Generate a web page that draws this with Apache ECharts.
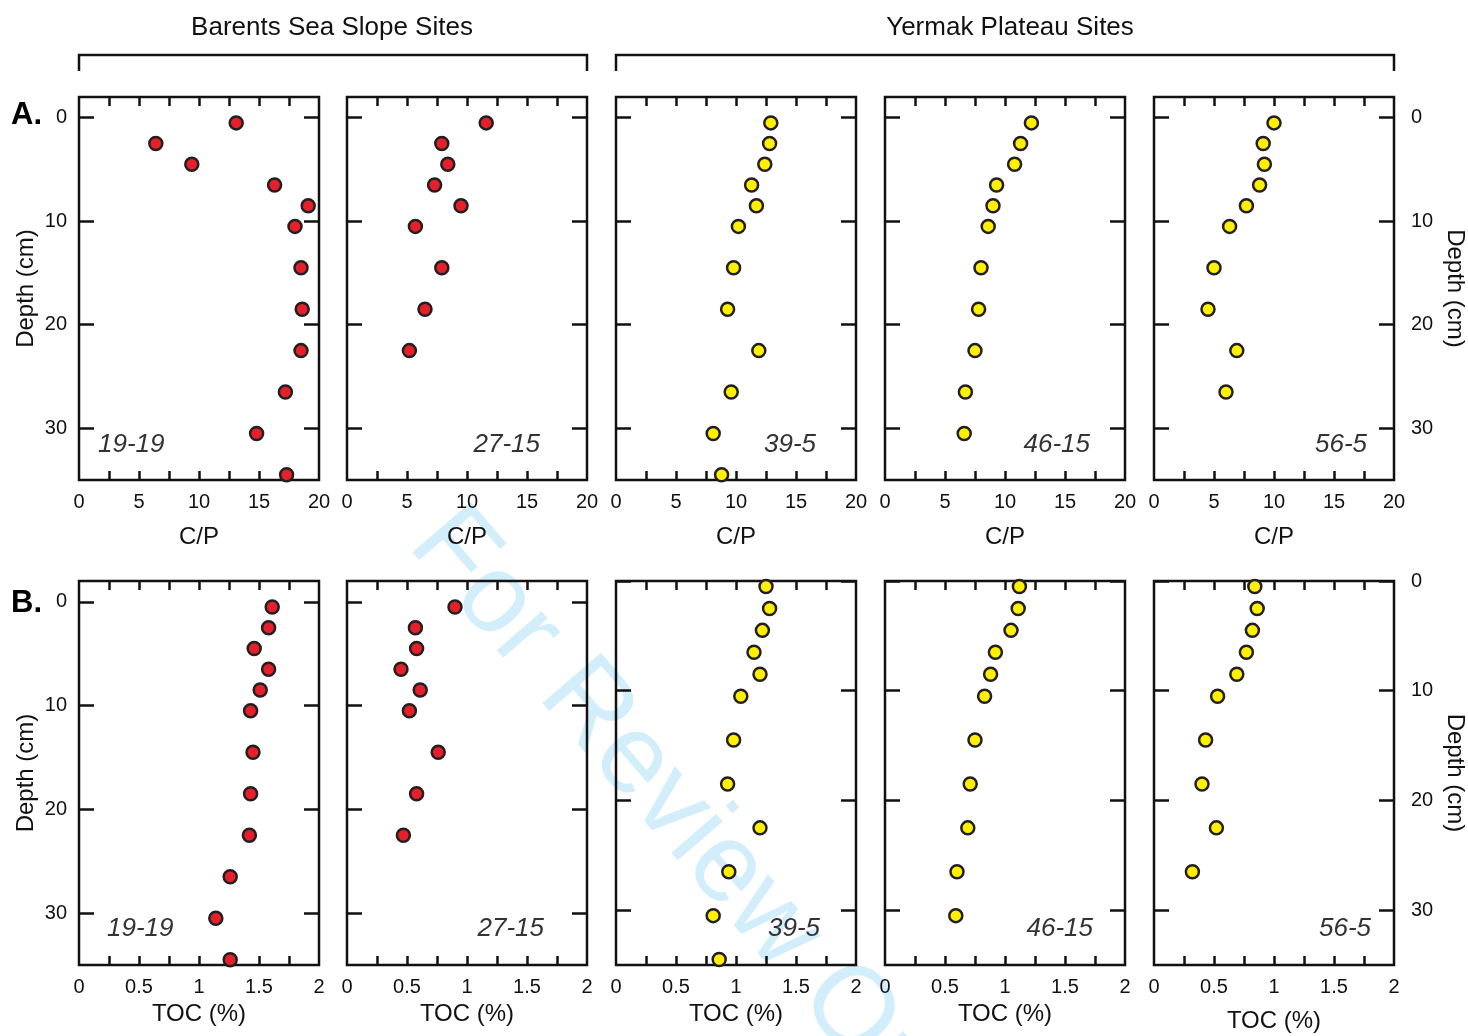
<!DOCTYPE html>
<html>
<head>
<meta charset="utf-8">
<script src="https://cdn.jsdelivr.net/npm/echarts@6/dist/echarts.min.js"></script>
<style>
html, body { margin: 0; padding: 0; background: #fff; }
#chart { width: 1468px; height: 1036px; }
</style>
</head>
<body>
<div id="chart"></div>
<script>
// sample depths (cm), same spacing for every core
const depths = [0.5, 2.5, 4.5, 6.5, 8.5, 10.5, 14.5, 18.5, 22.5, 26.5, 30.5, 34.5];
const sites = ['19-19', '27-15', '39-5', '46-15', '56-5'];

// C/P ratio per core
const cp1919 = [13.1, 6.4, 9.4, 16.3, 19.1, 18.0, 18.5, 18.6, 18.5, 17.2, 14.8, 17.3];
const cp2715 = [11.6, 7.9, 8.4, 7.3, 9.5, 5.7, 7.9, 6.5, 5.2];
const cp395 = [12.9, 12.8, 12.4, 11.3, 11.7, 10.2, 9.8, 9.3, 11.9, 9.6, 8.1, 8.8];
const cp4615 = [12.2, 11.3, 10.8, 9.3, 9.0, 8.6, 8.0, 7.8, 7.5, 6.7, 6.6];
const cp565 = [10.0, 9.1, 9.2, 8.8, 7.7, 6.3, 5.0, 4.5, 6.9, 6.0];

// TOC (%) per core
const toc1919 = [1.61, 1.58, 1.46, 1.58, 1.51, 1.43, 1.45, 1.43, 1.42, 1.26, 1.14, 1.26];
const toc2715 = [0.90, 0.57, 0.58, 0.45, 0.61, 0.52, 0.76, 0.58, 0.47];
const toc395 = [1.25, 1.28, 1.22, 1.15, 1.20, 1.04, 0.98, 0.93, 1.20, 0.94, 0.81, 0.86];
const toc4615 = [1.12, 1.11, 1.05, 0.92, 0.88, 0.83, 0.75, 0.71, 0.69, 0.60, 0.59];
const toc565 = [0.84, 0.86, 0.82, 0.77, 0.69, 0.53, 0.43, 0.40, 0.52, 0.32];

// axis ticks / labels
const cpTicks = [2.5, 5, 7.5, 10, 12.5, 15, 17.5];
const cpLabels = [0, 5, 10, 15, 20];
const tocTicks = [0.25, 0.5, 0.75, 1, 1.25, 1.5, 1.75];
const tocLabels = [0, 0.5, 1, 1.5, 2];
const depthTicks = [0, 10, 20, 30];

const font = '"Liberation Sans", Arial, sans-serif';
const ink = '#111';
const red = '#e5202a';
const yellow = '#fff000';

// layout
const colLeft = [79, 347, 616, 885, 1154];
const panelW = 240;
const rowTop = [97, 581];
const rowH = [383, 384];

const grids = [], xAxes = [], yAxes = [], series = [], graphics = [];

function tickStyle(len) {
  return { show: true, inside: true, length: len, lineStyle: { color: ink, width: 2.5 } };
}
const noLine = { show: false, onZero: false };

function addPanel(row, col, vals, color, xMax, xTicks, xLabels, xName, yMin, nameGap) {
  const g = grids.length;
  grids.push({
    left: colLeft[col], top: rowTop[row], width: panelW, height: rowH[row],
    show: true, borderColor: ink, borderWidth: 2.5, backgroundColor: 'transparent',
    containLabel: false, outerBoundsMode: 'none'
  });
  // bottom x axis with labels
  xAxes.push({
    gridIndex: g, type: 'value', position: 'bottom', min: 0, max: xMax,
    axisLine: noLine, splitLine: { show: false },
    axisTick: Object.assign(tickStyle(9), { customValues: xTicks }),
    axisLabel: { customValues: xLabels, color: ink, fontSize: 20, fontFamily: font, margin: 12 },
    name: xName, nameLocation: 'middle', nameGap: nameGap,
    nameTextStyle: { color: ink, fontSize: 24, fontFamily: font }
  });
  // top x axis, ticks only
  xAxes.push({
    gridIndex: g, type: 'value', position: 'top', min: 0, max: xMax,
    axisLine: noLine, splitLine: { show: false },
    axisTick: Object.assign(tickStyle(9), { customValues: xTicks }),
    axisLabel: { show: false }
  });
  // left depth axis
  yAxes.push({
    gridIndex: g, type: 'value', position: 'left', inverse: true, min: yMin, max: 35,
    axisLine: noLine, splitLine: { show: false },
    axisTick: Object.assign(tickStyle(15), { customValues: depthTicks }),
    axisLabel: { show: col === 0, customValues: depthTicks, color: ink, fontSize: 20, fontFamily: font, margin: 12 },
    name: col === 0 ? 'Depth (cm)' : '', nameLocation: 'middle', nameGap: 41, nameRotate: 90,
    nameTextStyle: { color: ink, fontSize: 24, fontFamily: font }
  });
  // right depth axis
  yAxes.push({
    gridIndex: g, type: 'value', position: 'right', inverse: true, min: yMin, max: 35,
    axisLine: noLine, splitLine: { show: false },
    axisTick: Object.assign(tickStyle(15), { customValues: depthTicks }),
    axisLabel: { show: col === 4, customValues: depthTicks, color: ink, fontSize: 20, fontFamily: font, margin: 17 },
    name: col === 4 ? 'Depth (cm)' : '', nameLocation: 'middle', nameGap: 49, nameRotate: -90,
    nameTextStyle: { color: ink, fontSize: 24, fontFamily: font }
  });
  series.push({
    type: 'scatter', xAxisIndex: 2 * g, yAxisIndex: 2 * g,
    data: vals.map((v, i) => [v, depths[i]]),
    symbol: 'circle', symbolSize: 13,
    itemStyle: { color: color, borderColor: '#231f20', borderWidth: 2.5, opacity: 1 },
    z: 5, silent: true
  });
}

const cpSets = [cp1919, cp2715, cp395, cp4615, cp565];
const tocSets = [toc1919, toc2715, toc395, toc4615, toc565];
for (let c = 0; c < 5; c++) {
  const col = c < 2 ? red : yellow;
  addPanel(0, c, cpSets[c], col, 20, cpTicks, cpLabels, 'C/P', -2, 45);
  addPanel(1, c, tocSets[c], col, 2, tocTicks, tocLabels, 'TOC (%)', c < 2 ? -2 : 0, c === 4 ? 44 : 37);
}

// site names inside panels: [x, align] per column, for each row
const siteLabelPos = [
  [[98, 'left'], [540, 'right'], [816, 'right'], [1090, 'right'], [1367, 'right']],
  [[107, 'left'], [544, 'right'], [820, 'right'], [1093, 'right'], [1371, 'right']]
];
const siteLabelY = [445, 929];
for (let r = 0; r < 2; r++) {
  for (let c = 0; c < 5; c++) {
    graphics.push({
      type: 'text', x: siteLabelPos[r][c][0], y: siteLabelY[r], z: 10,
      style: { text: sites[c], fill: '#333', font: 'italic 26px ' + font,
        textAlign: siteLabelPos[r][c][1], textVerticalAlign: 'middle' }
    });
  }
}

// panel letters
graphics.push(
  { type: 'text', x: 11, y: 115, z: 10, style: { text: 'A.', fill: '#000', font: 'bold 31px ' + font, textVerticalAlign: 'middle' } },
  { type: 'text', x: 11, y: 603, z: 10, style: { text: 'B.', fill: '#000', font: 'bold 31px ' + font, textVerticalAlign: 'middle' } }
);

// group headers + brackets
function bracket(x1, x2, title, cx) {
  graphics.push({
    type: 'text', x: cx, y: 28, z: 10,
    style: { text: title, fill: ink, font: '26px ' + font, textAlign: 'center', textVerticalAlign: 'middle' }
  });
  graphics.push({
    type: 'polyline', z: 10,
    shape: { points: [[x1, 71], [x1, 55], [x2, 55], [x2, 71]] },
    style: { stroke: ink, lineWidth: 2.5, fill: null }
  });
}
bracket(79, 587, 'Barents Sea Slope Sites', 332);
bracket(616, 1394, 'Yermak Plateau Sites', 1010);

// review watermark
graphics.push({
  type: 'text', x: 430, y: 525, rotation: -0.86, z: -10,
  style: { text: 'For Review Only', fill: '#d3eefb', font: '112px ' + font, textVerticalAlign: 'middle' }
});

const chart = echarts.init(document.getElementById('chart'));
chart.setOption({
  animation: false,
  backgroundColor: '#fff',
  grid: grids,
  xAxis: xAxes,
  yAxis: yAxes,
  series: series,
  graphic: graphics
});
</script>
</body>
</html>
